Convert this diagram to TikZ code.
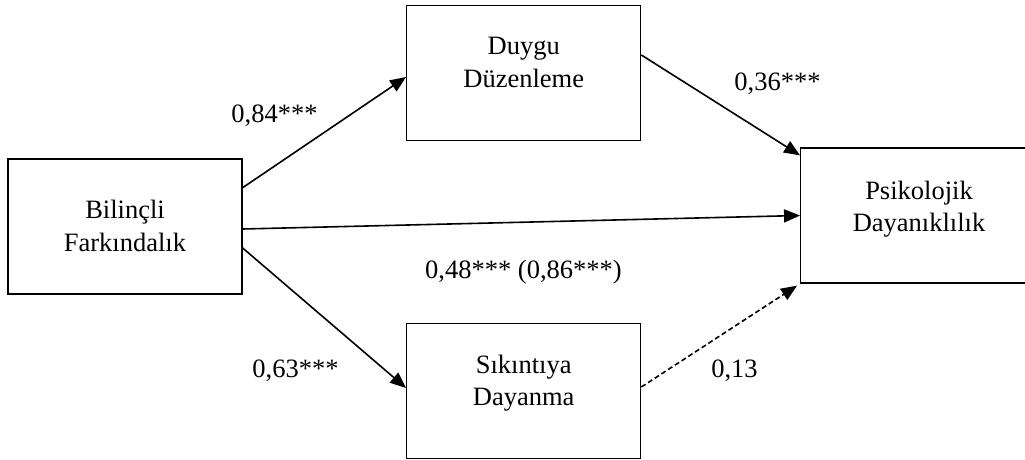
\documentclass[tikz,border=0pt]{standalone}
\usepackage{fontspec}
\setmainfont{Liberation Serif}
\usetikzlibrary{arrows.meta}

\begin{document}
\begin{tikzpicture}[x=1pt, y=-1pt,
    box/.style={draw, line width=1.3pt, minimum width=234pt,
      minimum height=135pt, inner sep=0pt},
    txt/.style={font=\fontsize{26.5}{32.5}\selectfont, align=center,
      inner sep=0pt},
    coef/.style={font=\fontsize{26.5}{32.5}\selectfont, inner sep=0pt,
      anchor=base},
    link/.style={line width=1.6pt, -{Triangle[length=16pt, width=13pt]}}]
  \useasboundingbox (0,0) rectangle (1025,460);
  % the four variable boxes (the outcome box runs off the right edge)
  \node[box] (bf) at (125,226.5) {};
  \node[box] (dd) at (523.7,73.3) {};
  \node[box] (sd) at (523.7,391) {};
  \node[box] (pd) at (917.7,215.5) {};
  % box texts, sitting a little high as in the original
  \node[txt] (bft) at (125,226) {Bilinçli\\Farkındalık};
  \node[txt] (ddt) at (523.7,62.5) {Duygu\\Düzenleme};
  \node[txt] (sdt) at (523.7,383) {Sıkıntıya\\Dayanma};
  \node[txt] (pdt) at (919,209) {Psikolojik\\Dayanıklılık};
  % paths
  \draw[link] ([yshift=38.8pt]bf.east) -- ([yshift=-3.7pt]dd.west);
  \draw[link] ([yshift=-2.5pt]bf.east) -- (pd.west);
  \draw[link] ([yshift=-21.5pt]bf.east) -- ([yshift=3pt]sd.west);
  \draw[link] ([yshift=18.3pt]dd.east) -- ([yshift=-8pt]pd.north west);
  \draw[link, dash pattern=on 5pt off 3pt]
    ([yshift=4pt]sd.east) -- ([xshift=-3pt, yshift=-2pt]pd.south west);
  % path coefficients
  \node[coef] (c84) at (274.5,122) {0,84***};
  \node[coef] (c36) at (777.5,90) {0,36***};
  \node[coef] (c48) at (523.5,278) {0,48*** (0,86***)};
  \node[coef] (c63) at (295.5,377) {0,63***};
  \node[coef] (c13) at (734.5,377) {0,13};
\end{tikzpicture}
\end{document}
